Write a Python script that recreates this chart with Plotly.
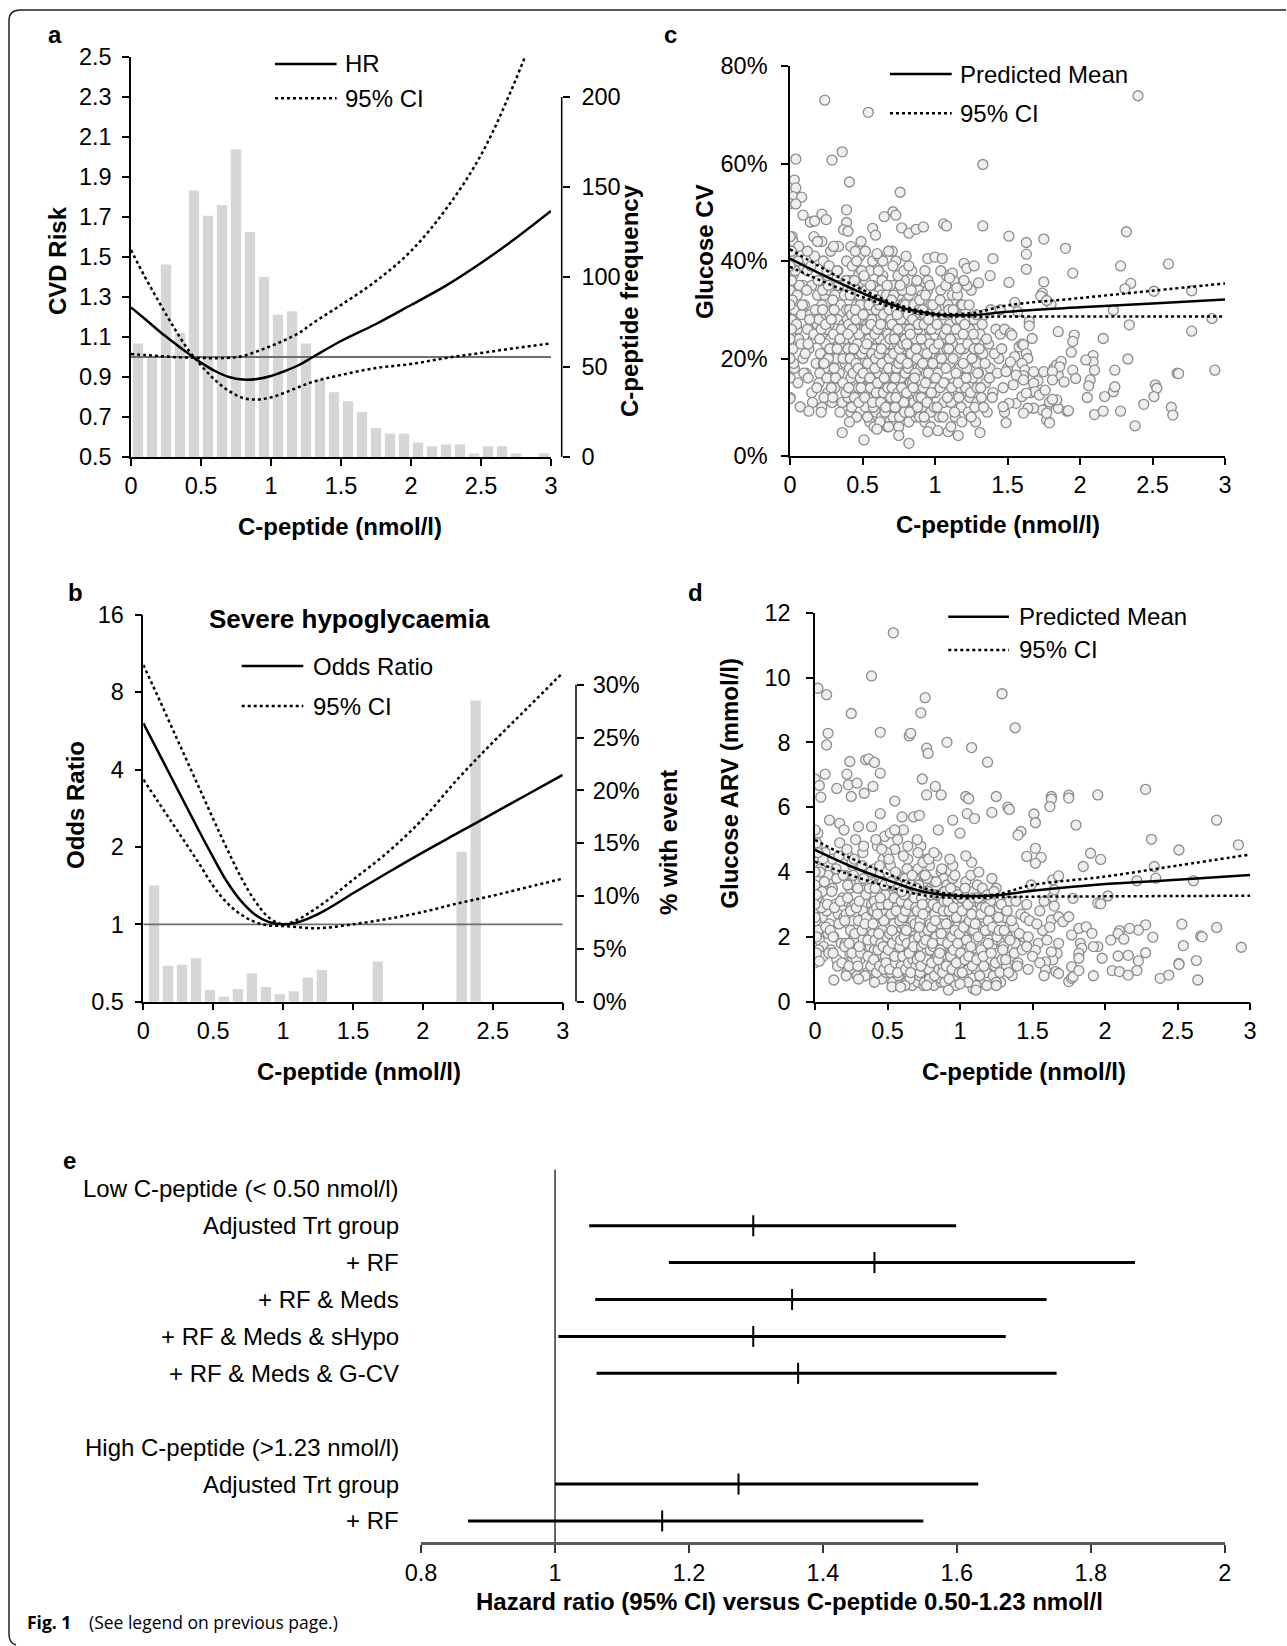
import plotly.graph_objects as go

W, H = 1287, 1646
FONT = "Liberation Sans, Arial, Helvetica, sans-serif"


def px(v):
    return v / W


def py(v):
    return 1 - v / H


# ---------------- Panel a : CVD risk ----------------
cpep_ticks = [0, 0.5, 1, 1.5, 2, 2.5, 3]
cpep_ticktext = ["0", "0.5", "1", "1.5", "2", "2.5", "3"]

hist_a_bin = [0.05, 0.15, 0.25, 0.35, 0.45, 0.55, 0.65, 0.75, 0.85, 0.95, 1.05, 1.15, 1.25, 1.35, 1.45,
              1.55, 1.65, 1.75, 1.85, 1.95, 2.05, 2.15, 2.25, 2.35, 2.45, 2.55, 2.65, 2.75, 2.85, 2.95, 3.05]
hist_a_count = [63, 56, 107, 69, 148, 134, 140, 171, 125, 100, 79, 81, 63, 43, 36,
                31, 25, 16, 13, 13, 8, 6, 7, 7, 2, 6, 6, 2, 0, 2, 3]

hr_x = [0, 0.1, 0.2, 0.3, 0.4, 0.5, 0.6, 0.7, 0.8, 0.9, 1.0, 1.1, 1.2, 1.3, 1.5, 1.75, 2.0, 2.25, 2.5, 2.75, 3.0]
hr_est = [1.248, 1.19, 1.13, 1.075, 1.022, 0.972, 0.93, 0.90, 0.887, 0.89, 0.905, 0.93, 0.96, 1.0,
          1.08, 1.165, 1.26, 1.357, 1.47, 1.595, 1.73]
hr_ci_1 = [1.535, 1.40, 1.275, 1.155, 1.045, 0.958, 0.885, 0.83, 0.795, 0.787, 0.798, 0.822, 0.85, 0.876,
           0.91, 0.945, 0.965, 0.995, 1.02, 1.045, 1.068]
hr_ci_2 = [1.015, 1.01, 1.005, 1.0, 0.997, 0.995, 0.994, 0.996, 1.005, 1.028, 1.055, 1.085, 1.12, 1.17,
           1.26, 1.38, 1.53, 1.74, 2.01, 2.39, 2.85]
hr_ticks = [0.5, 0.7, 0.9, 1.1, 1.3, 1.5, 1.7, 1.9, 2.1, 2.3, 2.5]
freq_ticks = [0, 50, 100, 150, 200]
HR_REF = 1.0

# ---------------- Panel b : severe hypoglycaemia ----------------
hist_b_bin = [0.05, 0.15, 0.25, 0.35, 0.45, 0.55, 0.65, 0.75, 0.85, 0.95, 1.05, 1.15,
              1.25, 1.35, 1.45, 1.55, 1.65, 1.75, 1.85, 1.95, 2.05, 2.15, 2.25, 2.35]
hist_b_pct = [11.0, 3.4, 3.5, 4.1, 1.1, 0.5, 1.2, 2.7, 1.4, 0.7, 1.0, 2.3,
              3.0, 0, 0, 0, 3.8, 0, 0, 0, 0, 0, 14.2, 28.5]
or_x = [0, 0.1, 0.2, 0.3, 0.4, 0.5, 0.6, 0.7, 0.8, 0.9, 1.0, 1.1, 1.2, 1.3, 1.5, 1.75, 2.0, 2.25, 2.5, 2.75, 3.0]
or_est = [6.06, 4.76, 3.73, 2.93, 2.30, 1.82, 1.46, 1.23, 1.09, 1.02, 1.0, 1.017, 1.064, 1.133,
          1.32, 1.59, 1.905, 2.266, 2.694, 3.204, 3.81]
or_ci_hi = [10.2, 7.78, 5.9, 4.47, 3.39, 2.57, 1.96, 1.52, 1.23, 1.06, 1.0, 1.04, 1.12, 1.22,
            1.49, 1.91, 2.57, 3.68, 5.10, 6.96, 9.51]
or_ci_lo = [3.66, 3.03, 2.51, 2.08, 1.72, 1.41, 1.21, 1.09, 1.02, 0.99, 0.985, 0.976, 0.966, 0.969,
            1.0, 1.05, 1.117, 1.206, 1.292, 1.395, 1.505]
or_ticks = [0.5, 1, 2, 4, 8, 16]
pct_ticks = [0, 5, 10, 15, 20, 25, 30]
OR_REF = 1.0

# ---------------- Panels c & d : glucose variability ----------------
fit_x = [0, 0.25, 0.5, 0.75, 1.0, 1.25, 1.5, 2.0, 2.5, 3.0]
cv_mean = [40.5, 36.8, 33.4, 30.6, 29.1, 28.9, 29.6, 30.5, 31.3, 32.1]
cv_hi = [42.4, 38.1, 34.1, 31.0, 29.3, 29.3, 30.9, 32.4, 33.9, 35.4]
cv_lo = [38.8, 35.5, 32.6, 30.1, 28.8, 28.6, 28.6, 28.6, 28.6, 28.6]
arv_mean = [4.68, 4.17, 3.75, 3.39, 3.26, 3.28, 3.42, 3.63, 3.76, 3.91]
arv_hi = [4.99, 4.42, 3.95, 3.50, 3.29, 3.31, 3.60, 3.86, 4.20, 4.54]
arv_lo = [4.32, 3.90, 3.55, 3.28, 3.20, 3.22, 3.24, 3.25, 3.26, 3.27]

# dense part of the cloud (same patients in c and d)
cloud_x = [
    0.00, 0.01, 0.01, 0.02, 0.02, 0.03, 0.03, 0.04, 0.05, 0.05, 0.06, 0.07, 0.08, 0.09, 0.09,
    0.10, 0.11, 0.12, 0.12, 0.13, 0.14, 0.15, 0.15, 0.16, 0.17, 0.18, 0.19, 0.19,
    0.20, 0.20, 0.21, 0.21, 0.22, 0.22, 0.23, 0.23, 0.24, 0.24, 0.25, 0.25, 0.26, 0.26, 0.26, 0.27, 0.27,
    0.28, 0.28, 0.28, 0.29, 0.29, 0.29, 0.25, 0.23,
    0.30, 0.31, 0.31, 0.32, 0.33, 0.33, 0.34, 0.35, 0.35, 0.36, 0.37, 0.37, 0.38, 0.38, 0.39, 0.39,
    0.40, 0.40, 0.41, 0.41, 0.41, 0.42, 0.42, 0.42, 0.43, 0.43, 0.43, 0.44, 0.44, 0.44, 0.45, 0.45, 0.45,
    0.46, 0.46, 0.46, 0.47, 0.47, 0.47, 0.48, 0.48, 0.48, 0.49, 0.49, 0.49, 0.40, 0.42, 0.44, 0.46, 0.48,
    0.50, 0.50, 0.51, 0.51, 0.52, 0.52, 0.53, 0.53, 0.53, 0.54, 0.54, 0.55, 0.55, 0.55, 0.56, 0.56, 0.57,
    0.57, 0.57, 0.58, 0.58, 0.58, 0.59, 0.59, 0.59, 0.51, 0.53, 0.55, 0.57, 0.59, 0.52,
    0.60, 0.60, 0.61, 0.61, 0.62, 0.62, 0.63, 0.63, 0.63, 0.64, 0.64, 0.65, 0.65, 0.65, 0.66, 0.66, 0.67,
    0.67, 0.67, 0.68, 0.68, 0.68, 0.69, 0.69, 0.69, 0.61, 0.62, 0.64, 0.66, 0.68, 0.60, 0.63,
    0.70, 0.70, 0.70, 0.71, 0.71, 0.71, 0.72, 0.72, 0.72, 0.73, 0.73, 0.73, 0.74, 0.74, 0.74, 0.75, 0.75,
    0.75, 0.76, 0.76, 0.76, 0.77, 0.77, 0.77, 0.78, 0.78, 0.78, 0.79, 0.79, 0.79, 0.70, 0.72, 0.74, 0.76,
    0.78, 0.71, 0.73, 0.75, 0.77, 0.79,
    0.80, 0.80, 0.81, 0.81, 0.82, 0.82, 0.82, 0.83, 0.83, 0.84, 0.84, 0.85, 0.85, 0.85, 0.86, 0.86, 0.87,
    0.87, 0.87, 0.88, 0.88, 0.89, 0.89, 0.89, 0.81, 0.83, 0.85, 0.87, 0.89,
    0.90, 0.90, 0.91, 0.91, 0.92, 0.92, 0.93, 0.93, 0.94, 0.94, 0.95, 0.95, 0.96, 0.96, 0.97, 0.97, 0.98,
    0.98, 0.99, 0.99, 0.91, 0.95, 0.98,
    1.00, 1.00, 1.01, 1.02, 1.02, 1.03, 1.04, 1.04, 1.05, 1.06, 1.06, 1.07, 1.08, 1.08, 1.09, 1.09, 1.03, 1.07,
    1.10, 1.10, 1.11, 1.12, 1.12, 1.13, 1.14, 1.14, 1.15, 1.16, 1.16, 1.17, 1.18, 1.18, 1.19, 1.19, 1.11,
    1.15, 1.17,
    1.20, 1.21, 1.21, 1.22, 1.23, 1.24, 1.24, 1.25, 1.26, 1.26, 1.27, 1.28, 1.28, 1.29, 1.29,
    1.30, 1.31, 1.32, 1.33, 1.34, 1.35, 1.36, 1.37, 1.38, 1.40, 1.42, 1.44,
]
cloud_cv = [
    34, 28, 41, 22, 37, 30, 18, 43, 26, 33, 24, 39, 29, 20, 35,
    31, 17, 26, 38, 22, 29, 13, 35, 24, 41, 19, 27, 33,
    28, 15, 36, 21, 31, 10, 25, 40, 18, 33, 23, 29, 13, 37, 20, 27, 34, 16, 24, 42, 30, 11, 22, 26, 19,
    25, 14, 33, 20, 28, 38, 17, 23, 31, 11, 27, 35, 19, 24, 30, 40,
    22, 12, 30, 18, 36, 25, 9, 33, 15, 27, 39, 21, 29, 13, 24, 34, 17, 31, 8, 26, 20, 37, 14, 28, 23, 41,
    11, 32, 19, 26, 16, 35, 22, 29,
    24, 14, 31, 19, 36, 10, 27, 21, 33, 16, 29, 7, 25, 38, 18, 30, 12, 23, 35, 20, 27, 15, 32, 22, 9, 26,
    17, 28, 40, 24, 13,
    20, 11, 28, 17, 34, 24, 8, 30, 14, 22, 37, 18, 26, 12, 32, 21, 6, 28, 16, 35, 23, 10, 29, 19, 25, 41,
    13, 31, 20, 27, 15, 33,
    23, 12, 30, 18, 35, 8, 26, 15, 32, 20, 40, 11, 28, 17, 24, 6, 33, 21, 13, 29, 19, 37, 9, 25, 16, 31,
    22, 14, 27, 36, 19, 10, 23, 30, 18, 26, 15, 34, 21, 12,
    20, 11, 27, 16, 33, 7, 24, 14, 30, 19, 38, 10, 25, 17, 29, 22, 13, 35, 8, 26, 18, 31, 12, 21, 28, 15,
    23, 9, 34,
    18, 27, 10, 33, 22, 14, 29, 7, 24, 17, 36, 12, 26, 20, 31, 9, 23, 16, 28, 13, 21, 34, 19,
    21, 13, 30, 17, 26, 8, 34, 19, 24, 11, 28, 15, 37, 22, 5, 31, 20, 25,
    19, 27, 11, 23, 33, 15, 8, 29, 21, 13, 25, 18, 31, 10, 22, 16, 6, 28, 14,
    22, 14, 30, 18, 9, 26, 12, 34, 20, 16, 28, 7, 24, 11, 19,
    17, 25, 12, 21, 29, 15, 9, 23, 18, 13, 26, 20,
]
cloud_arv = [
    3.6, 2.9, 4.3, 2.2, 5.2, 3.1, 1.9, 4.1, 2.6, 3.4, 1.7, 4.6, 2.8, 2.1, 3.9,
    2.4, 1.6, 3.5, 4.4, 2.0, 3.0, 1.3, 3.8, 2.7, 4.9, 1.8, 2.5, 3.2,
    2.6, 1.2, 3.9, 1.8, 3.1, 0.9, 2.4, 4.5, 1.5, 3.5, 2.2, 2.9, 1.0, 4.2, 1.9, 2.7, 3.6, 1.4, 2.3, 5.0,
    3.0, 0.8, 2.0, 2.5, 1.7,
    2.5, 1.3, 3.7, 1.9, 2.8, 4.6, 1.6, 2.2, 3.3, 0.9, 2.6, 3.9, 1.7, 2.3, 3.0, 5.4,
    2.1, 1.1, 3.1, 1.6, 4.1, 2.4, 0.8, 3.6, 1.3, 2.7, 4.8, 1.9, 2.9, 1.2, 2.3, 3.8, 1.5, 3.2, 0.7, 2.5,
    1.8, 4.4, 1.2, 2.8, 2.0, 5.1, 0.9, 3.4, 1.6, 2.6, 1.4, 3.9, 2.2, 3.0,
    2.4, 1.2, 3.3, 1.7, 4.2, 0.9, 2.7, 1.9, 3.6, 1.4, 3.0, 0.5, 2.5, 4.7, 1.6, 3.1, 1.0, 2.2, 3.9, 1.8,
    2.8, 1.3, 3.4, 2.0, 0.7, 2.6, 1.5, 2.9, 5.0, 2.3, 1.1,
    2.0, 1.0, 2.9, 1.5, 3.8, 2.3, 0.6, 3.2, 1.2, 2.1, 4.4, 1.6, 2.6, 1.0, 3.5, 1.9, 0.5, 2.8, 1.4, 4.0,
    2.2, 0.8, 3.0, 1.7, 2.5, 5.3, 1.1, 3.3, 1.8, 2.7, 1.3, 3.6,
    2.3, 1.1, 3.2, 1.6, 4.1, 0.6, 2.6, 1.3, 3.6, 1.9, 4.8, 0.9, 2.9, 1.5, 2.4, 0.5, 3.7, 2.0, 1.2, 3.1,
    1.8, 4.4, 0.7, 2.5, 1.4, 3.4, 2.1, 1.2, 2.7, 4.2, 1.7, 0.8, 2.2, 3.3, 1.6, 2.6, 1.3, 3.9, 2.0, 1.0,
    2.0, 1.0, 2.8, 1.5, 3.7, 0.5, 2.4, 1.2, 3.3, 1.8, 4.5, 0.8, 2.5, 1.5, 3.0, 2.1, 1.1, 4.0, 0.6, 2.6,
    1.6, 3.4, 1.0, 2.0, 2.9, 1.3, 2.3, 0.7, 3.8,
    1.8, 2.8, 0.9, 3.6, 2.2, 1.2, 3.0, 0.6, 2.4, 1.5, 4.2, 1.0, 2.6, 1.9, 3.4, 0.7, 2.3, 1.4, 2.9, 1.1,
    2.0, 3.8, 1.7,
    2.1, 1.2, 3.2, 1.6, 2.6, 0.7, 3.7, 1.8, 2.4, 1.0, 2.9, 1.4, 4.3, 2.2, 0.4, 3.4, 1.9, 2.5,
    1.9, 2.8, 1.0, 2.3, 3.6, 1.4, 0.6, 3.0, 2.1, 1.2, 2.6, 1.7, 3.3, 0.9, 2.2, 1.5, 0.5, 2.9, 1.3,
    2.2, 1.3, 3.1, 1.7, 0.8, 2.7, 1.1, 3.5, 1.9, 1.5, 2.9, 0.6, 2.4, 1.0, 1.8,
    1.7, 2.6, 1.1, 2.0, 3.1, 1.4, 0.8, 2.3, 1.8, 1.2, 2.7, 2.0,
]

# second layer of the dense cloud
cloud2_x = [
    0.005, 0.015, 0.025, 0.035, 0.045, 0.055, 0.065, 0.075, 0.085, 0.095, 0.015, 0.055,
    0.105, 0.115, 0.125, 0.135, 0.145, 0.155, 0.165, 0.175, 0.185, 0.195, 0.125, 0.165,
    0.205, 0.215, 0.225, 0.235, 0.245, 0.255, 0.265, 0.275, 0.285, 0.295,
    0.205, 0.215, 0.225, 0.235, 0.245, 0.255, 0.265, 0.275, 0.285, 0.295, 0.22, 0.27,
    0.305, 0.315, 0.325, 0.335, 0.345, 0.355, 0.365, 0.375, 0.385, 0.395, 0.305, 0.325, 0.345, 0.365,
    0.385, 0.335,
    0.405, 0.405, 0.415, 0.415, 0.425, 0.425, 0.435, 0.435, 0.445, 0.445, 0.455, 0.455, 0.465, 0.465,
    0.475, 0.475, 0.485, 0.485, 0.495, 0.495, 0.41, 0.43, 0.45, 0.47, 0.49, 0.42, 0.44, 0.46, 0.48, 0.40,
    0.505, 0.505, 0.515, 0.515, 0.525, 0.525, 0.535, 0.535, 0.545, 0.545, 0.555, 0.555, 0.565, 0.565,
    0.575, 0.575, 0.585, 0.585, 0.595, 0.595, 0.51, 0.53, 0.55, 0.57, 0.59, 0.52, 0.56, 0.58,
    0.605, 0.605, 0.615, 0.615, 0.625, 0.625, 0.635, 0.635, 0.645, 0.645, 0.655, 0.655, 0.665, 0.665,
    0.675, 0.675, 0.685, 0.685, 0.695, 0.695, 0.61, 0.63, 0.65, 0.67, 0.69, 0.62, 0.64, 0.66, 0.68, 0.60,
    0.705, 0.705, 0.715, 0.715, 0.725, 0.725, 0.735, 0.735, 0.745, 0.745, 0.755, 0.755, 0.765, 0.765,
    0.775, 0.775, 0.785, 0.785, 0.795, 0.795, 0.71, 0.72, 0.73, 0.74, 0.75, 0.76, 0.77, 0.78, 0.79, 0.70,
    0.705, 0.725, 0.745, 0.765, 0.785, 0.795,
    0.805, 0.805, 0.815, 0.815, 0.825, 0.825, 0.835, 0.835, 0.845, 0.845, 0.855, 0.855, 0.865, 0.865,
    0.875, 0.875, 0.885, 0.885, 0.895, 0.895, 0.81, 0.83, 0.85, 0.87, 0.89, 0.82, 0.86, 0.88,
    0.905, 0.905, 0.915, 0.915, 0.925, 0.925, 0.935, 0.935, 0.945, 0.945, 0.955, 0.955, 0.965, 0.965,
    0.975, 0.975, 0.985, 0.985, 0.995, 0.995, 0.93, 0.97,
    1.005, 1.015, 1.015, 1.025, 1.035, 1.035, 1.045, 1.055, 1.055, 1.065, 1.075, 1.075, 1.085, 1.095,
    1.095, 1.04, 1.06, 1.08,
    1.105, 1.115, 1.125, 1.125, 1.135, 1.145, 1.145, 1.155, 1.165, 1.175, 1.175, 1.185, 1.195, 1.195,
    1.13, 1.16, 1.19,
    1.205, 1.215, 1.225, 1.235, 1.245, 1.255, 1.265, 1.275, 1.285, 1.295, 1.22, 1.25, 1.27, 1.29,
    1.305, 1.315, 1.325, 1.335, 1.345, 1.355, 1.375, 1.385, 1.395, 1.41, 1.43, 1.45,
]
cloud2_cv = [
    25, 32, 19, 38, 27, 15, 35, 23, 31, 17, 45, 40,
    21, 34, 16, 28, 39, 11, 25, 30, 14, 36, 23, 45,
    17, 26, 34, 12, 23, 38, 20, 29, 14, 32, 24, 9, 30, 19, 27, 16, 35, 22, 28, 12, 44, 39,
    30, 16, 22, 35, 9, 26, 20, 33, 13, 28, 18, 38, 24, 15, 36, 43,
    27, 14, 20, 33, 10, 29, 24, 17, 36, 12, 28, 19, 23, 34, 11, 25, 16, 31, 21, 38, 7, 26, 30, 18, 14,
    43, 22, 40, 33, 25,
    29, 17, 22, 12, 34, 26, 8, 19, 31, 24, 14, 35, 21, 28, 10, 33, 18, 25, 13, 30, 37, 23, 16, 11, 20,
    42, 27, 6,
    26, 15, 31, 21, 11, 27, 19, 36, 13, 29, 23, 9, 33, 17, 25, 14, 30, 20, 12, 28, 38, 22, 16, 35, 24,
    7, 40, 10, 18, 32,
    27, 14, 21, 33, 10, 25, 18, 30, 13, 37, 22, 8, 28, 16, 34, 20, 11, 26, 17, 31, 39, 24, 12, 29, 19,
    35, 14, 23, 9, 32, 42, 16, 26, 20, 38, 24,
    23, 13, 29, 18, 9, 26, 21, 34, 15, 28, 11, 31, 24, 17, 36, 20, 12, 27, 8, 32, 19, 25, 14, 22, 30,
    39, 16, 10,
    24, 12, 30, 19, 8, 27, 15, 33, 21, 11, 28, 17, 35, 23, 13, 26, 19, 31, 10, 22, 38, 6,
    16, 27, 10, 23, 32, 14, 20, 29, 8, 25, 18, 35, 12, 22, 30, 38, 15, 26,
    24, 14, 30, 20, 9, 26, 17, 33, 12, 22, 28, 7, 19, 25, 36, 15, 31,
    27, 16, 23, 31, 13, 20, 25, 10, 29, 17, 35, 8, 22, 14,
    22, 14, 27, 10, 19, 24, 16, 30, 12, 21, 17, 25,
]
cloud2_arv = [
    2.5, 3.2, 1.6, 4.0, 2.9, 1.4, 3.7, 2.3, 3.0, 1.5, 4.8, 4.4,
    2.2, 3.4, 1.5, 2.9, 4.1, 1.1, 2.4, 3.1, 1.2, 3.9, 2.0, 4.5,
    1.7, 2.7, 3.6, 1.1, 2.2, 4.3, 1.9, 3.0, 1.3, 3.5, 2.5, 0.8, 3.2, 1.8, 2.8, 1.5, 3.9, 2.1, 2.9, 1.1,
    4.7, 4.4,
    3.1, 1.5, 2.2, 3.8, 0.8, 2.6, 1.9, 3.5, 1.1, 2.8, 1.7, 4.2, 2.4, 1.4, 4.0, 4.8,
    2.8, 1.3, 1.9, 3.5, 0.9, 2.9, 2.3, 1.6, 4.2, 1.1, 3.0, 1.8, 2.2, 3.7, 1.0, 2.5, 1.4, 3.3, 2.0, 4.6,
    0.6, 2.7, 3.2, 1.7, 1.2, 5.0, 2.1, 4.7, 3.6, 2.4,
    3.0, 1.6, 2.1, 1.0, 3.7, 2.7, 0.6, 1.8, 3.2, 2.4, 1.2, 4.0, 2.0, 2.9, 0.8, 3.5, 1.7, 2.5, 1.1, 3.1,
    4.4, 2.2, 1.4, 0.9, 1.9, 5.2, 2.8, 0.5,
    2.6, 1.4, 3.3, 2.0, 1.0, 2.8, 1.8, 4.1, 1.2, 3.0, 2.3, 0.7, 3.6, 1.6, 2.5, 1.3, 3.2, 1.9, 1.1, 2.9,
    4.5, 2.2, 1.5, 3.9, 2.4, 0.5, 4.8, 0.9, 1.7, 3.4,
    2.8, 1.3, 2.0, 3.6, 0.9, 2.5, 1.7, 3.2, 1.1, 4.3, 2.1, 0.6, 2.9, 1.5, 3.8, 1.9, 1.0, 2.6, 1.6, 3.3,
    4.6, 2.3, 1.1, 3.0, 1.8, 3.9, 1.3, 2.2, 0.7, 3.5, 5.0, 1.4, 2.7, 1.9, 4.4, 2.4,
    2.3, 1.2, 3.0, 1.7, 0.8, 2.7, 2.0, 3.7, 1.4, 2.9, 1.0, 3.3, 2.4, 1.6, 4.1, 1.9, 1.1, 2.8, 0.6, 3.4,
    1.8, 2.5, 1.3, 2.1, 3.1, 4.6, 1.5, 0.9,
    2.4, 1.1, 3.1, 1.8, 0.7, 2.8, 1.4, 3.5, 2.0, 1.0, 2.9, 1.6, 3.9, 2.2, 1.2, 2.6, 1.8, 3.3, 0.9, 2.1,
    4.4, 0.5,
    1.5, 2.8, 0.9, 2.3, 3.5, 1.3, 1.9, 3.0, 0.6, 2.5, 1.7, 3.9, 1.1, 2.2, 3.2, 4.5, 1.4, 2.7,
    2.4, 1.3, 3.2, 2.0, 0.8, 2.7, 1.6, 3.5, 1.1, 2.2, 2.9, 0.5, 1.8, 2.5, 4.0, 1.4, 3.3,
    2.8, 1.5, 2.3, 3.4, 1.2, 2.0, 2.6, 0.9, 3.0, 1.6, 3.8, 0.6, 2.2, 1.3,
    2.2, 1.3, 2.8, 0.9, 1.9, 2.5, 1.5, 3.1, 1.1, 2.1, 1.6, 2.6,
]

# individually readable points of panel c (C-peptide, glucose CV %)
cv_points = [
    (0.24, 73.0), (0.54, 70.5), (0.04, 60.9), (0.29, 60.7), (0.36, 62.4), (0.41, 56.2), (1.33, 59.8),
    (0.03, 56.6), (0.04, 55.0), (0.02, 53.2), (0.08, 53.1), (0.00, 51.8), (0.04, 51.7), (0.76, 54.1),
    (0.09, 49.4), (0.22, 49.6), (0.25, 48.5), (0.39, 50.5), (0.39, 47.9), (0.37, 46.4), (0.40, 46.1),
    (0.14, 48.0), (0.17, 48.2), (0.71, 50.1), (0.73, 49.4), (0.65, 49.1), (0.77, 46.8), (0.57, 46.7),
    (0.59, 45.3), (0.82, 45.7), (0.87, 46.5), (0.92, 47.0), (1.06, 47.6), (1.08, 47.2), (1.33, 47.2),
    (0.49, 44.0), (0.02, 44.0), (0.06, 43.0), (0.12, 42.0), (0.19, 44.0), (0.30, 43.0), (0.45, 42.0),
    (0.60, 41.5), (0.68, 42.0), (0.80, 41.0), (0.95, 40.5), (1.00, 40.8), (1.05, 40.5), (1.12, 37.5),
    (1.20, 39.5), (1.22, 38.5), (1.27, 39.0), (1.40, 40.5), (1.38, 37.0), (1.20, 36.0), (1.30, 35.5),
    (1.10, 36.5), (1.15, 34.5),
    (0.00, 12.0), (0.00, 16.0), (0.00, 24.0), (0.01, 26.0), (0.00, 31.0), (0.01, 36.0), (0.00, 39.0),
    (0.01, 42.0), (0.00, 45.0), (0.00, 20.0),
    (0.36, 4.8), (0.51, 3.3), (0.82, 2.6), (0.75, 4.2), (1.16, 4.2), (1.31, 4.8), (0.60, 5.5), (0.68, 6.0),
    (0.95, 5.0), (1.02, 5.2), (0.00, 11.8), (0.07, 10.1), (0.13, 9.2),
    (1.46, 22.0), (1.48, 26.0), (1.47, 14.0), (1.45, 30.0), (1.50, 18.0), (1.48, 9.0),
    (1.51, 45.1), (1.51, 35.6), (1.55, 31.5), (1.52, 25.2), (1.53, 24.8), (1.58, 22.4), (1.60, 23.0),
    (1.61, 22.8), (1.63, 21.0), (1.64, 20.0), (1.67, 24.1), (1.65, 27.6), (1.65, 26.7), (1.57, 29.6),
    (1.80, 31.1), (1.75, 35.7), (1.74, 33.4), (1.73, 32.8), (1.77, 31.9), (1.60, 19.0), (1.62, 17.6),
    (1.61, 16.5), (1.55, 20.4), (1.52, 19.3), (1.49, 17.3), (1.56, 16.6), (1.61, 15.6), (1.54, 14.6),
    (1.68, 17.3), (1.75, 17.3), (1.71, 15.4), (1.68, 14.9), (1.66, 13.0), (1.69, 13.2), (1.82, 18.0),
    (1.84, 18.7), (1.87, 19.4), (1.85, 16.6), (1.85, 9.8), (1.84, 11.5), (1.91, 9.2), (1.77, 9.8),
    (1.74, 9.4), (1.68, 9.8), (1.64, 9.8), (1.61, 8.8), (1.56, 10.8), (1.77, 7.4), (1.72, 12.5),
    (1.76, 13.5), (1.60, 12.2), (1.63, 12.9), (1.49, 6.8), (1.51, 10.8), (1.47, 10.1),
    (1.63, 43.8), (1.63, 41.4), (1.63, 38.3), (1.75, 44.5), (1.90, 42.6), (2.32, 46.0), (2.61, 39.4),
    (2.28, 39.0), (1.95, 37.5), (2.35, 35.4), (2.31, 34.3), (2.51, 33.8), (2.77, 33.9), (2.91, 28.2),
    (2.77, 25.6), (2.93, 17.6), (2.23, 29.9), (2.34, 26.9), (2.16, 24.1), (2.33, 19.9), (2.67, 17.0),
    (2.68, 16.9), (2.52, 14.6), (2.53, 13.9), (2.51, 12.2), (2.44, 10.6), (2.63, 10.0), (2.64, 8.4),
    (2.38, 6.2), (2.28, 9.2), (2.23, 13.2), (2.24, 14.2), (2.17, 12.2), (2.10, 8.5), (2.16, 9.2),
    (2.09, 20.6), (2.09, 19.3), (2.10, 17.6), (2.04, 19.7), (2.05, 12.0), (2.07, 15.6), (2.06, 14.4),
    (2.24, 17.6), (1.95, 17.6), (1.97, 15.9), (1.96, 24.8), (1.95, 23.5), (1.94, 21.3), (1.85, 25.5),
    (1.92, 9.3), (1.89, 15.2), (1.86, 18.3), (1.81, 17.3), (1.81, 15.6), (1.79, 11.1), (1.81, 11.6),
    (1.77, 8.8), (1.79, 6.8), (2.40, 73.9),
]

# individually readable points of panel d (C-peptide, glucose ARV mmol/l)
arv_points = [
    (0.54, 11.38), (0.39, 10.05), (0.02, 9.67), (0.08, 9.47), (1.29, 9.50), (0.25, 8.89), (0.73, 8.91),
    (0.76, 9.38), (1.38, 8.45), (0.45, 8.31), (0.09, 8.28), (0.08, 7.92), (0.65, 8.20), (0.66, 8.28),
    (0.91, 8.00), (0.77, 7.82), (0.78, 7.66), (1.08, 7.84), (1.19, 7.39), (0.35, 7.46), (0.37, 7.49),
    (0.41, 7.38), (0.40, 6.64), (0.45, 7.05), (0.07, 7.02), (0.24, 7.41), (0.22, 7.02), (0.00, 6.87),
    (0.25, 6.33), (0.23, 6.69), (0.29, 6.74), (0.34, 6.43), (0.15, 6.58), (0.03, 6.67), (0.04, 6.31),
    (0.55, 6.19), (0.74, 6.87), (0.83, 6.64), (0.77, 6.38), (0.87, 6.38), (1.04, 6.33), (1.06, 6.26),
    (1.25, 6.33), (1.22, 5.84), (1.33, 6.00), (1.34, 5.93), (1.42, 5.25), (1.40, 5.14),
    (0.10, 5.6), (0.17, 5.5), (0.30, 5.4), (0.45, 5.8), (0.60, 5.7), (0.68, 5.7), (0.72, 5.75),
    (0.95, 5.6), (1.05, 5.8), (1.10, 5.65), (0.20, 5.3), (0.55, 5.3), (0.85, 5.3), (1.00, 5.2),
    (0.00, 1.2), (0.01, 2.0), (0.00, 2.6), (0.01, 3.3), (0.00, 4.0), (0.02, 4.6), (0.00, 5.3),
    (0.01, 1.5), (0.00, 3.0), (0.01, 4.9),
    (0.53, 0.46), (0.92, 0.36), (1.11, 0.36), (0.59, 0.45), (0.77, 0.50), (1.00, 0.55), (1.25, 0.50),
    (0.13, 0.67), (0.30, 0.70), (0.03, 1.25),
    (1.51, 5.79), (1.52, 5.52), (1.63, 6.33), (1.63, 6.25), (1.62, 6.02), (1.75, 6.37), (1.75, 6.28),
    (1.95, 6.38), (2.28, 6.55), (1.80, 5.45), (2.77, 5.60), (2.32, 5.01), (2.51, 4.68), (2.92, 4.84),
    (1.90, 4.58), (1.97, 4.39), (1.85, 4.17), (2.34, 4.17), (2.61, 3.73), (2.35, 3.81), (2.22, 3.73),
    (1.95, 3.04), (1.97, 3.02), (2.02, 3.26), (2.77, 2.29), (2.53, 2.39), (2.28, 2.37), (2.33, 1.99),
    (2.23, 2.21), (2.17, 2.26), (2.10, 2.19), (2.09, 2.10), (2.04, 1.90), (2.13, 1.93), (2.66, 2.03),
    (2.67, 2.00), (2.94, 1.68), (2.54, 1.73), (2.28, 1.51), (2.51, 1.18), (2.63, 1.27), (2.23, 1.26),
    (2.16, 1.43), (2.09, 1.41), (2.05, 0.96), (2.10, 0.93), (2.16, 0.82), (2.22, 0.96), (2.38, 0.72),
    (2.44, 0.82), (2.64, 0.67), (2.51, 1.15), (1.98, 1.34), (1.95, 1.70), (1.92, 0.80),
    (1.52, 4.73), (1.56, 4.45), (1.46, 4.48), (1.52, 4.27), (1.64, 3.24), (1.65, 2.95), (1.78, 3.19),
    (1.63, 2.52), (1.68, 2.62), (1.71, 2.47), (1.75, 2.62), (1.82, 2.26), (1.83, 1.80), (1.77, 2.06),
    (1.87, 2.31), (1.84, 1.65), (1.82, 1.49), (1.82, 1.34), (1.91, 2.11), (1.92, 1.70), (1.68, 1.80),
    (1.67, 1.49), (1.64, 1.29), (1.63, 1.54), (1.59, 1.23), (1.54, 1.80), (1.52, 1.59), (1.59, 0.98),
    (1.66, 0.93), (1.68, 0.87), (1.75, 0.62), (1.77, 0.72), (1.78, 0.77), (1.77, 1.08), (1.82, 0.96),
    (1.65, 3.45), (1.64, 3.76), (1.68, 3.88),
    (1.46, 3.0), (1.48, 2.5), (1.47, 2.0), (1.50, 1.4), (1.49, 3.6), (1.55, 2.8), (1.57, 2.2),
    (1.58, 3.1), (1.55, 1.2), (1.47, 1.0), (1.53, 2.4), (1.60, 1.9), (1.62, 2.3), (1.58, 0.8), (1.46, 1.7),
]
cv_ticks = [0, 20, 40, 60, 80]
arv_ticks = [0, 2, 4, 6, 8, 10, 12]

# ---------------- Panel e : forest plot ----------------
e_labels = ["Low C-peptide (< 0.50 nmol/l)", "Adjusted Trt group", "+ RF", "+ RF & Meds",
            "+ RF & Meds & sHypo", "+ RF & Meds & G-CV", "", "High C-peptide (>1.23 nmol/l)",
            "Adjusted Trt group", "+ RF"]
e_hr = [None, 1.296, 1.477, 1.354, 1.296, 1.363, None, None, 1.274, 1.160]
e_lo = [None, 1.051, 1.170, 1.060, 1.005, 1.062, None, None, 1.000, 0.870]
e_hi = [None, 1.599, 1.866, 1.734, 1.673, 1.749, None, None, 1.632, 1.550]
e_ticks = [0.8, 1.0, 1.2, 1.4, 1.6, 1.8, 2.0]
e_ticktext = ["0.8", "1", "1.2", "1.4", "1.6", "1.8", "2"]
E_REF = 1.0

# ---------------- styles ----------------
BAR_COLOR = "#d6d6d6"
LINE_W = 2.5
REF_COLOR = "#6f6f6f"
PT_MARKER = dict(size=10, color="#efefef", line=dict(color="#8c8c8c", width=1.3))
TICK_SIZE = 23.5

fig = go.Figure()

# --- panel a ---
fig.add_trace(go.Bar(x=hist_a_bin, y=hist_a_count, xaxis="x", yaxis="y", width=0.074,
                     marker=dict(color=BAR_COLOR, line=dict(width=0))))
fig.add_trace(go.Scatter(x=[cpep_ticks[0], cpep_ticks[-1]], y=[HR_REF, HR_REF], xaxis="x", yaxis="y2",
                         mode="lines", line=dict(color=REF_COLOR, width=1.8)))
for ys, dash in [(hr_ci_1, "dot"), (hr_ci_2, "dot"), (hr_est, "solid")]:
    fig.add_trace(go.Scatter(x=hr_x, y=ys, xaxis="x", yaxis="y2", mode="lines",
                             line=dict(color="black", width=LINE_W, dash=dash, shape="spline", smoothing=1.0)))

# --- panel b ---
fig.add_trace(go.Bar(x=hist_b_bin, y=hist_b_pct, xaxis="x2", yaxis="y3", width=0.074, offset=-0.01,
                     marker=dict(color=BAR_COLOR, line=dict(width=0))))
fig.add_trace(go.Scatter(x=[cpep_ticks[0], cpep_ticks[-1]], y=[OR_REF, OR_REF], xaxis="x2", yaxis="y4",
                         mode="lines", line=dict(color=REF_COLOR, width=1.8)))
for ys, dash in [(or_ci_hi, "dot"), (or_ci_lo, "dot"), (or_est, "solid")]:
    fig.add_trace(go.Scatter(x=or_x, y=ys, xaxis="x2", yaxis="y4", mode="lines",
                             line=dict(color="black", width=LINE_W, dash=dash, shape="spline", smoothing=1.0)))

# --- panel c ---
for xs, ys in [(cloud_x, cloud_cv), (cloud2_x, cloud2_cv),
               ([p[0] for p in cv_points], [p[1] for p in cv_points])]:
    fig.add_trace(go.Scatter(x=xs, y=ys, xaxis="x3", yaxis="y5", mode="markers", marker=PT_MARKER))
for ys, dash in [(cv_hi, "dot"), (cv_lo, "dot"), (cv_mean, "solid")]:
    fig.add_trace(go.Scatter(x=fit_x, y=ys, xaxis="x3", yaxis="y5", mode="lines",
                             line=dict(color="black", width=LINE_W, dash=dash, shape="spline", smoothing=1.0)))

# --- panel d ---
for xs, ys in [(cloud_x, cloud_arv), (cloud2_x, cloud2_arv),
               ([p[0] for p in arv_points], [p[1] for p in arv_points])]:
    fig.add_trace(go.Scatter(x=xs, y=ys, xaxis="x4", yaxis="y6", mode="markers", marker=PT_MARKER))
for ys, dash in [(arv_hi, "dot"), (arv_lo, "dot"), (arv_mean, "solid")]:
    fig.add_trace(go.Scatter(x=fit_x, y=ys, xaxis="x4", yaxis="y6", mode="lines",
                             line=dict(color="black", width=LINE_W, dash=dash, shape="spline", smoothing=1.0)))

# --- panel e ---
rows = [i for i, v in enumerate(e_hr) if v is not None]
fig.add_trace(go.Scatter(
    x=[e_hr[i] for i in rows], y=[-i for i in rows], xaxis="x5", yaxis="y7", mode="markers",
    marker=dict(symbol="line-ns-open", size=15, line=dict(width=2, color="black"), color="black"),
    error_x=dict(type="data", symmetric=False, array=[e_hi[i] - e_hr[i] for i in rows],
                 arrayminus=[e_hr[i] - e_lo[i] for i in rows], thickness=3, width=0, color="black")))

tickfont = dict(family=FONT, size=TICK_SIZE, color="black")


def axis(**kw):
    base = dict(showgrid=False, zeroline=False, showline=True, linecolor="black", linewidth=1.5,
                ticks="outside", ticklen=7, tickwidth=1.5, tickcolor="black", tickfont=tickfont,
                automargin=False)
    base.update(kw)
    return base


fig.update_layout(
    width=W, height=H, margin=dict(l=0, r=0, t=0, b=0, pad=0, autoexpand=False), showlegend=False,
    autosize=False, paper_bgcolor="white", plot_bgcolor="white", barmode="overlay",
    font=dict(family=FONT, color="black"),
    # panel a
    xaxis=axis(domain=[px(131), px(551)], range=[0, 3], anchor="y", tickvals=cpep_ticks, ticktext=cpep_ticktext),
    yaxis=axis(domain=[py(457), py(57)], range=[0, 222.2], anchor="free", position=px(561.7), side="right",
               tickvals=freq_ticks, showline=False, ticklabelstandoff=7),
    yaxis2=axis(overlaying="y", anchor="x", side="left", range=[0.5, 2.5], tickvals=hr_ticks,
                ticktext=["%.1f" % t for t in hr_ticks], ticklabelstandoff=6),
    # panel b
    xaxis2=axis(domain=[px(143.3), px(562.7)], range=[0, 3], anchor="y3", tickvals=cpep_ticks,
                ticktext=cpep_ticktext),
    yaxis3=axis(domain=[py(1001.7), py(614.7)], range=[0, 36.62], anchor="free", position=px(576),
                side="right", tickvals=pct_ticks, ticktext=["%d%%" % t for t in pct_ticks], showline=False,
                ticklabelstandoff=4),
    yaxis4=axis(overlaying="y3", anchor="x2", side="left", type="log", range=[-0.30103, 1.20412],
                tickvals=or_ticks, ticktext=["0.5", "1", "2", "4", "8", "16"], ticklabelstandoff=6),
    # panel c
    xaxis3=axis(domain=[px(790), px(1225)], range=[0, 3], anchor="y5", tickvals=cpep_ticks,
                ticktext=cpep_ticktext),
    yaxis5=axis(domain=[py(456), py(66)], range=[0, 80], anchor="x3", tickvals=cv_ticks,
                ticktext=["%d%%" % t for t in cv_ticks], ticklabelstandoff=9),
    # panel d
    xaxis4=axis(domain=[px(815), px(1250)], range=[0, 3], anchor="y6", tickvals=cpep_ticks,
                ticktext=cpep_ticktext),
    yaxis6=axis(domain=[py(1001.7), py(612.7)], range=[0, 12], anchor="x4", tickvals=arv_ticks,
                ticklabelstandoff=11),
    # panel e
    xaxis5=axis(domain=[px(421.1), px(1224.7)], range=[0.8, 2.0], anchor="y7", tickvals=e_ticks,
                ticktext=e_ticktext, linecolor="#5a5a5a", linewidth=2.5, ticklen=8, tickcolor="#333333"),
    yaxis7=dict(domain=[py(1542), py(1169.6)], range=[-9.57, 0.52], visible=False, anchor="x5"),
)

shapes = []
annotations = []


def text(t, x, y, size=24, bold=False, xanchor="center", angle=0, family=FONT):
    annotations.append(dict(
        text=("<b>%s</b>" % t) if bold else t, x=px(x), y=py(y),
        xref="paper", yref="paper", xanchor=xanchor, yanchor="middle", showarrow=False, textangle=angle,
        font=dict(family=family, size=size, color="black")))


def hline(x0, x1, y, dash="solid", width=LINE_W, color="black"):
    shapes.append(dict(type="line", xref="paper", yref="paper", x0=px(x0), x1=px(x1), y0=py(y), y1=py(y),
                       line=dict(color=color, width=width, dash=dash)))


def legend(x0, x1, xt, y1, y2, label1):
    hline(x0, x1, y1)
    hline(x0, x1, y2, dash="dot")
    text(label1, xt, y1, xanchor="left")
    text("95% CI", xt, y2, xanchor="left")


# right axis lines (only over the tick range)
shapes.append(dict(type="line", xref="paper", yref="y", x0=px(561.7), x1=px(561.7), y0=freq_ticks[0],
                   y1=freq_ticks[-1], line=dict(color="black", width=1.5)))
shapes.append(dict(type="line", xref="paper", yref="y3", x0=px(576), x1=px(576), y0=pct_ticks[0],
                   y1=pct_ticks[-1], line=dict(color="black", width=1.5)))
# reference line panel e
shapes.append(dict(type="line", xref="x5", yref="y7 domain", x0=E_REF, x1=E_REF, y0=0, y1=1,
                   line=dict(color="black", width=1.2)))
# outer frame (kept inside the page)
frame = "M %f,%f Q %f,%f %f,%f L %f,%f Q %f,%f %f,%f L %f,%f" % (
    px(16), py(1645), px(9), py(1643), px(9), py(1634), px(9), py(21), px(9), py(10), px(20), py(10),
    px(1286), py(10))
shapes.append(dict(type="path", xref="paper", yref="paper", path=frame, line=dict(color="#222222", width=1.5)))

# legends
legend(275, 336.6, 343.3, 64, 98.3, "HR")
legend(241.7, 303.3, 310.7, 666, 706, "Odds Ratio")
legend(890, 951.7, 958.3, 74, 113.3, "Predicted Mean")
legend(948.3, 1009, 1017, 616.7, 650, "Predicted Mean")

# panel letters
for letter, x, y in [("a", 55, 34), ("b", 75.7, 592), ("c", 670, 35), ("d", 695, 592), ("e", 69, 1160)]:
    text(letter, x, y, size=24, bold=True)

# axis titles
text("CVD Risk", 58, 261, bold=True, angle=-90)
text("C-peptide frequency", 629, 301, bold=True, angle=-90)
text("C-peptide (nmol/l)", 339.5, 526, bold=True)
text("Severe hypoglycaemia", 349.2, 619, size=26, bold=True)
text("Odds Ratio", 75, 805, bold=True, angle=-90)
text("% with event", 668, 843, bold=True, angle=-90)
text("C-peptide (nmol/l)", 358.6, 1071, bold=True)
text("Glucose CV", 704, 252, bold=True, angle=-90)
text("C-peptide (nmol/l)", 997.6, 524, bold=True)
text("Glucose ARV (mmol/l)", 728.7, 783, bold=True, angle=-90)
text("C-peptide (nmol/l)", 1023.6, 1071, bold=True)
text("Hazard ratio (95% CI) versus C-peptide 0.50-1.23 nmol/l", 789, 1601.4, bold=True)

# forest plot row labels
for i, lab in enumerate(e_labels):
    if lab:
        annotations.append(dict(text=lab, x=px(400.6), y=-i, xref="paper", yref="y7", xanchor="right",
                                yanchor="middle", showarrow=False,
                                font=dict(family=FONT, size=24, color="black")))

# caption
CAP_FONT = "Open Sans, Liberation Sans, sans-serif"
text("Fig. 1", 25, 1622, size=17.5, bold=True, xanchor="left", family=CAP_FONT)
text("(See legend on previous page.)", 87, 1622, size=17.5, xanchor="left", family=CAP_FONT)

fig.update_layout(shapes=shapes, annotations=annotations)
fig.write_html("out.html", config={"responsive": False, "displayModeBar": False},
               post_script="document.body.style.margin='0px';document.body.style.padding='0px';"
                           "document.documentElement.style.overflow='hidden';")
